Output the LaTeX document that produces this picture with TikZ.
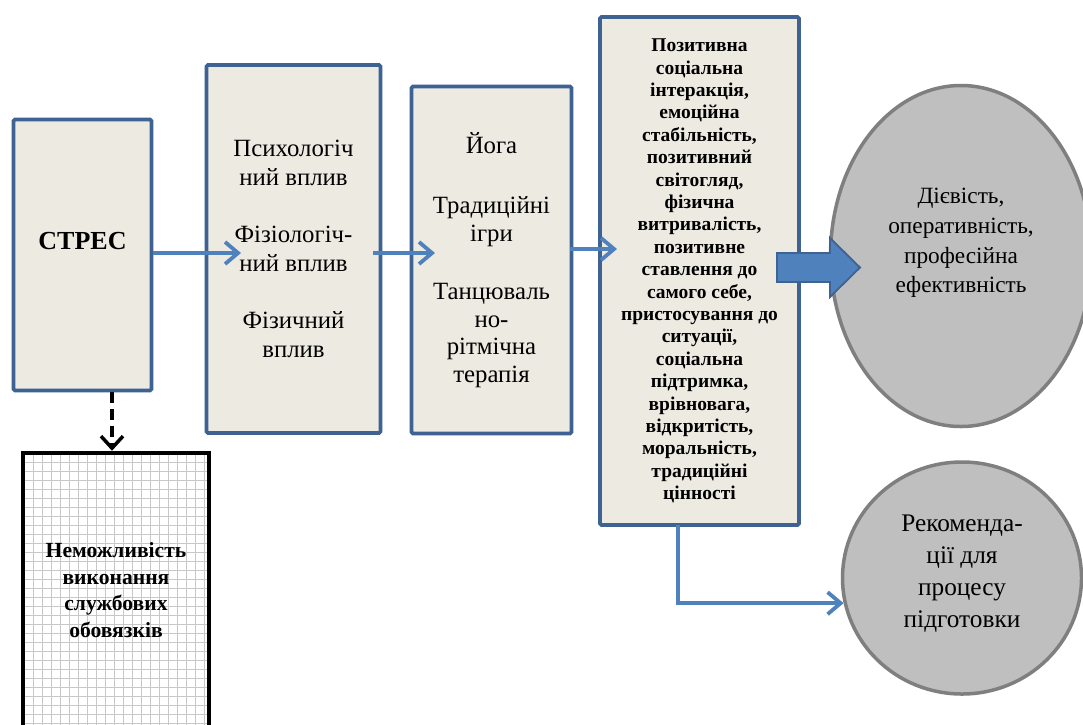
\documentclass[tikz,border=0pt]{standalone}
\usepackage{fontspec}
\setmainfont{Liberation Serif}
\usetikzlibrary{arrows.meta,shapes.geometric}
\definecolor{boxblue}{RGB}{62,98,146}
\definecolor{boxfill}{RGB}{236,234,225}
\definecolor{arrblue}{RGB}{79,129,189}
\definecolor{ellfill}{RGB}{191,191,191}
\definecolor{ellline}{RGB}{127,127,127}
\definecolor{gridgray}{RGB}{200,200,200}
\begin{document}
\begin{tikzpicture}[x=1pt,y=-1pt,
  bluebox/.style={draw=boxblue, fill=boxfill, line width=3.8pt, rounded corners=1.5pt, inner sep=0pt, align=center},
  flow/.style={draw=arrblue, line width=3.8pt, -{Straight Barb[length=13pt,width=22pt,line width=3.8pt]}},
  dashflow/.style={draw=black, line width=4pt, dash pattern=on 11pt off 6pt, -{Straight Barb[length=12pt,width=22pt,line width=3.5pt]}},
  oval/.style={ellipse, draw=ellline, fill=ellfill, line width=3.5pt, inner sep=0pt},
  bigtxt/.style={font=\fontsize{24.8}{28.7}\selectfont, align=center},
  smalltxt/.style={font=\bfseries\fontsize{19.5}{22.4}\selectfont, align=center},
  ovaltxt/.style={align=center}
]
\useasboundingbox (0,0) rectangle (1083,724);
\clip (0,0) rectangle (1083,724);
\fill[white] (0,0) rectangle (1083,724);

% boxes
\node[bluebox, minimum width=138pt, minimum height=271pt] (stres) at (82.5,255) {};
\node[font=\bfseries\fontsize{26}{30}\selectfont] (stresT) at (82.5,241) {СТРЕС};

\node[bluebox, bigtxt, minimum width=174pt, minimum height=368pt] (box2) at (293.5,249)
  {Психологіч\\ний вплив\\[28.7pt]Фізіологіч-\\ний вплив\\[28.7pt]Фізичний\\вплив};

\node[bluebox, font=\fontsize{24.8}{27.5}\selectfont, minimum width=160pt, minimum height=347pt] (box3) at (491.5,260)
  {Йога\\[33pt]Традиційні\\ігри\\[31pt]Танцюваль\\но-\\рітмічна\\терапія};

\node[bluebox, smalltxt, minimum width=199pt, minimum height=508pt] (box4) at (699.5,271)
  {Позитивна\\соціальна\\інтеракція,\\емоційна\\стабільність,\\позитивний\\світогляд,\\фізична\\витривалість,\\позитивне\\ставлення до\\самого себе,\\пристосування до\\ситуації,\\соціальна\\підтримка,\\врівновага,\\відкритість,\\моральність,\\традиційні\\цінності};

% grid box
\fill[white] (24,453) rectangle (208,735);
\foreach \gx in {24,33,...,208} \draw[gridgray, line width=0.8pt] (\gx,453) -- (\gx,735);
\foreach \gy in {453,462,...,735} \draw[gridgray, line width=0.8pt] (24,\gy) -- (208,\gy);
\node[draw=black, line width=4.5pt, minimum width=186pt, minimum height=282pt, inner sep=0pt] (imp) at (116,594) {};
\node[font=\bfseries\fontsize{21.6}{26.7}\selectfont, align=center] (impT) at (116,590)
  {Неможливість\\виконання\\службових\\обовязків};

% ellipses
\node[oval, minimum width=261pt, minimum height=341pt] (eff) at (961,256) {};
\node[ovaltxt, font=\fontsize{23.3}{29.7}\selectfont] (effT) at (961,243)
  {Дієвість,\\оперативність,\\професійна\\ефективність};
\node[oval, minimum width=239pt, minimum height=232pt] (rec) at (962,578) {};
\node[ovaltxt, font=\fontsize{25.3}{32}\selectfont] (recT) at (962,574)
  {Рекоменда-\\ції для\\процесу\\підготовки};

% connectors
\coordinate (t1) at (241,253);
\coordinate (s2) at (373,253);
\coordinate (t2) at (435,253);
\coordinate (s3) at (570,249);
\coordinate (t3) at (617,249);
\coordinate (b4s) at (678,525);
\draw[flow] (stres.east |- t1) -- (t1);
\draw[flow] (s2) -- (t2);
\draw[flow] (s3) -- (t3);
\draw[flow] (b4s) |- (rec.192);
\coordinate (dd) at (112,0);
\draw[dashflow] (stres.south -| dd) -- (imp.north -| dd);

% big block arrow
\filldraw[fill=arrblue, draw=boxblue, line width=1.8pt]
  (777,253) -- (830,253) -- (830,238) -- (860,267.5) -- (830,297) -- (830,282) -- (777,282) -- cycle;
\end{tikzpicture}
\end{document}
